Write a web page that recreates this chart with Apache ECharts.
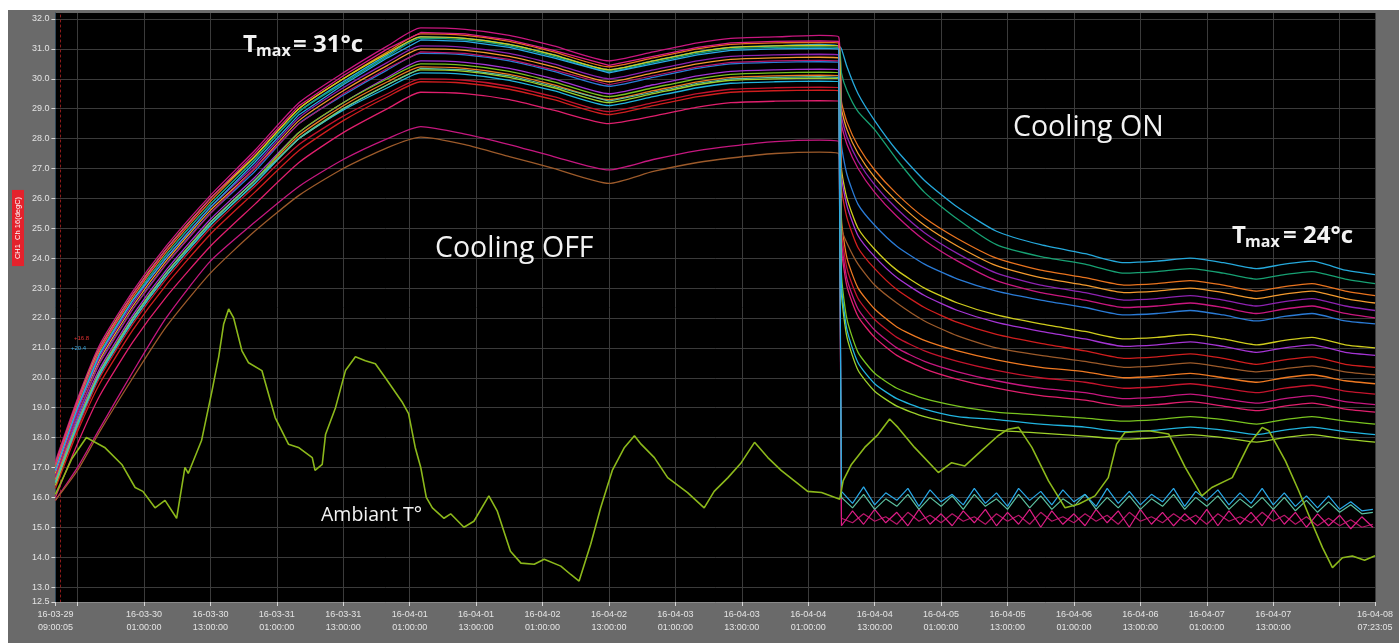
<!DOCTYPE html>
<html><head><meta charset="utf-8">
<script src="https://cdn.jsdelivr.net/npm/echarts@6/dist/echarts.min.js"></script>
<style>
html,body{margin:0;padding:0;background:#fff;width:1399px;height:643px;overflow:hidden}
#c{position:absolute;left:8px;top:10px;width:1391px;height:633px;background:#6a6a6a}
</style>
</head><body><div id="c"></div>
<script>
// ---- time axis (hours since 2016-03-29 00:00:00) ----
const START = 9 + 5/3600;              // 16-03-29 09:00:05
const END = 247 + 23/60 + 5/3600;      // 16-04-08 07:23:05
const xTickValues = [START,13,25,37,49,61,73,85,97,109,121,133,145,157,169,181,193,205,217,229,241,END];
const xLabelValues = [START,25,37,49,61,73,85,97,109,121,133,145,157,169,181,193,205,217,229,END];
const yTickValues = [12.5,13,14,15,16,17,18,19,20,21,22,23,24,25,26,27,28,29,30,31,32];

// ---- sensor series: hours relative to start of record ----
const hours = [0,4,8,14,20,28,36,44,52,60,66,74,82,90,100,108,116,122,130,138,141.5,
  142,143,145,148,152,157,163,170,178,186,193,199,205,211,217,222,227,233,238.4];

const sCyan = [17.0,19.0,20.8,22.6,24.1,25.8,27.3,28.9,29.9,30.8,31.4,31.35,31.15,30.8,30.3,30.6,30.9,31.05,31.1,31.15,31.1,
  31.0,30.4,29.5,28.6,27.6,26.6,25.7,24.9,24.45,24.15,23.85,23.9,24.0,23.85,23.65,23.8,23.9,23.6,23.45];
const sMagentaTop = [17.2,19.3,21.1,22.9,24.4,26.1,27.6,29.2,30.2,31.1,31.7,31.65,31.45,31.1,30.6,30.9,31.2,31.35,31.4,31.45,31.4,
  28.5,27.8,27.0,26.2,25.4,24.6,23.9,23.25,22.85,22.6,22.35,22.4,22.5,22.35,22.15,22.3,22.4,22.15,22.0];
const sOrange = [17.0,19.1,20.9,22.7,24.2,25.9,27.4,29.0,30.0,30.9,31.5,31.45,31.25,30.9,30.4,30.7,31.0,31.15,31.2,31.22,31.2,
  29.25,28.55,27.75,26.95,26.15,25.35,24.65,24.0,23.6,23.35,23.1,23.15,23.25,23.1,22.9,23.05,23.15,22.9,22.75];
const sTeal = [16.9,19.0,20.8,22.6,24.1,25.8,27.3,28.9,29.85,30.75,31.35,31.3,31.1,30.75,30.25,30.55,30.85,31.0,31.05,31.07,31.05,
  30.2,29.6,28.9,28.3,27.3,26.2,25.3,24.45,24.05,23.8,23.5,23.55,23.65,23.5,23.3,23.45,23.55,23.3,23.15];
const sOrange2 = [16.8,18.9,20.6,22.4,23.9,25.6,27.0,28.6,29.6,30.45,31.0,30.95,30.75,30.4,29.9,30.2,30.5,30.65,30.7,30.72,30.7,
  29.0,28.3,27.5,26.7,25.9,25.1,24.4,23.75,23.35,23.1,22.85,22.9,23.0,22.85,22.65,22.8,22.9,22.65,22.5];
const sPurple = [16.9,18.9,20.7,22.5,24.0,25.7,27.1,28.7,29.7,30.55,31.1,31.05,30.85,30.5,30.0,30.3,30.6,30.75,30.8,30.82,30.8,
  28.75,28.05,27.25,26.45,25.65,24.85,24.15,23.5,23.1,22.85,22.6,22.65,22.75,22.6,22.4,22.55,22.65,22.4,22.25];
const sBlue = [16.7,18.7,20.5,22.3,23.8,25.5,26.9,28.5,29.45,30.3,30.85,30.8,30.6,30.25,29.75,30.05,30.35,30.5,30.55,30.57,30.55,
  27.8,26.8,25.8,25.1,24.4,23.8,23.3,22.9,22.6,22.35,22.1,22.15,22.25,22.1,21.9,22.05,22.15,21.9,21.8];
const sYellow = [17.1,19.2,21.0,22.8,24.3,26.0,27.4,29.0,30.0,30.85,31.4,31.35,31.15,30.8,30.3,30.6,30.9,31.05,31.1,31.12,31.1,
  27.0,26.0,25.0,24.3,23.6,23.0,22.5,22.1,21.8,21.55,21.3,21.35,21.45,21.3,21.1,21.25,21.35,21.1,21.0];
const sPurple2 = [16.6,18.6,20.3,22.1,23.6,25.3,26.7,28.2,29.2,30.05,30.6,30.55,30.35,30.0,29.5,29.8,30.1,30.25,30.3,30.32,30.3,
  26.75,25.75,24.75,24.05,23.35,22.75,22.25,21.85,21.55,21.3,21.05,21.1,21.2,21.05,20.85,21.0,21.1,20.85,20.75];
const sRed = [16.3,18.2,19.8,21.6,23.1,24.8,26.2,27.6,28.6,29.4,29.9,29.85,29.65,29.3,28.8,29.1,29.4,29.55,29.6,29.62,29.6,
  26.35,25.35,24.35,23.65,22.95,22.35,21.85,21.45,21.15,20.9,20.65,20.7,20.8,20.65,20.45,20.6,20.7,20.45,20.35];
const sOrange3 = [16.6,18.5,20.2,22.0,23.5,25.2,26.6,28.1,29.1,29.9,30.4,30.35,30.15,29.8,29.3,29.6,29.9,30.05,30.1,30.12,30.1,
  25.3,24.0,23.0,22.3,21.7,21.25,20.9,20.6,20.35,20.2,20.0,20.05,20.15,20.0,19.85,20.0,20.1,19.9,19.8];
const sRed2 = [16.4,18.3,20.0,21.8,23.3,25.0,26.4,27.8,28.75,29.5,30.0,29.95,29.75,29.4,28.9,29.2,29.5,29.65,29.7,29.72,29.7,
  24.95,23.65,22.65,21.95,21.35,20.9,20.55,20.25,20.0,19.85,19.65,19.7,19.8,19.65,19.5,19.65,19.75,19.55,19.45];
const sMagenta2 = [16.0,17.8,19.4,21.2,22.7,24.4,25.8,27.2,28.2,29.0,29.55,29.5,29.3,28.95,28.5,28.75,29.05,29.2,29.25,29.27,29.25,
  24.35,23.05,22.05,21.35,20.75,20.3,19.95,19.65,19.4,19.25,19.05,19.1,19.2,19.05,18.9,19.05,19.15,18.95,18.85];
const sMagentaLow = [15.9,17.0,18.3,20.2,22.0,23.9,25.2,26.4,27.3,28.0,28.4,28.15,27.8,27.4,26.95,27.3,27.6,27.75,27.9,27.95,27.9,
  24.6,23.3,22.3,21.6,21.0,20.55,20.2,19.9,19.65,19.5,19.3,19.35,19.45,19.3,19.15,19.3,19.4,19.2,19.1];
const sBrown = [15.9,16.9,18.2,20.0,21.7,23.5,24.9,26.1,27.0,27.7,28.05,27.8,27.4,27.0,26.5,26.9,27.2,27.35,27.5,27.55,27.5,
  25.0,24.5,23.8,23.1,22.5,21.9,21.4,21.0,20.75,20.55,20.35,20.4,20.5,20.35,20.2,20.3,20.4,20.2,20.1];
const sGreen = [16.5,18.5,20.2,22.0,23.5,25.2,26.6,28.2,29.2,30.0,30.5,30.45,30.25,29.9,29.4,29.7,30.0,30.15,30.2,30.22,30.2,
  23.45,21.95,20.85,20.15,19.65,19.3,19.05,18.85,18.75,18.65,18.55,18.6,18.7,18.6,18.45,18.6,18.7,18.55,18.45];
const sGreen2 = [16.4,18.4,20.1,21.9,23.4,25.1,26.5,28.0,29.0,29.8,30.3,30.25,30.05,29.7,29.2,29.5,29.8,29.95,30.0,30.02,30.0,
  22.85,21.35,20.25,19.55,19.05,18.7,18.45,18.25,18.15,18.05,17.95,18.0,18.1,18.0,17.85,18.0,18.1,17.95,17.85];
const sCyan2 = [16.5,18.4,20.1,21.9,23.4,25.1,26.5,28.0,28.95,29.7,30.2,30.15,29.95,29.6,29.1,29.4,29.7,29.85,29.9,29.92,29.9,
  23.1,21.6,20.5,19.8,19.3,18.95,18.7,18.6,18.45,18.35,18.2,18.25,18.35,18.25,18.1,18.25,18.35,18.2,18.1];

// ---- inlet sensors: heating phase + noisy cooled phase ----
const heatHours = [0,4,8,14,20,28,36,44,52,60,66,74,82,90,100,108,116,122,130,138,141.5];
const nCyanHeat = [16.9,19.0,20.8,22.6,24.0,25.7,27.2,28.8,29.8,30.7,31.3,31.25,31.05,30.7,30.2,30.5,30.8,30.95,31.0,31.02,31.0];
const nGreenHeat = [16.5,18.5,20.2,22.0,23.5,25.2,26.6,28.0,29.0,29.8,30.35,30.3,30.1,29.75,29.25,29.55,29.85,30.0,30.05,30.07,30.05];
const nMagentaHeat = [17.1,19.2,21.0,22.8,24.3,26.0,27.5,29.1,30.1,31.0,31.55,31.5,31.3,30.95,30.45,30.75,31.05,31.2,31.25,31.27,31.25];
const nPinkHeat = [16.7,18.8,20.5,22.3,23.8,25.5,27.0,28.5,29.5,30.35,30.9,30.85,30.65,30.3,29.8,30.1,30.4,30.55,30.6,30.62,30.6];
const coolHours = [142,144,146,148,150,152,154,156,158,160,162,164,166,168,170,172,174,176,178,180,182,184,186,188,190,
  192,194,196,198,200,202,204,206,208,210,212,214,216,218,220,222,224,226,228,230,232,234,236,238];
const nCyanCool = [16.2,15.8,16.35,15.75,16.15,15.9,16.3,15.7,16.25,15.85,16.1,15.75,16.3,15.8,16.15,15.7,16.3,15.9,16.2,15.75,
  16.25,15.85,16.1,15.7,16.3,15.8,16.2,15.75,16.1,15.85,16.3,15.7,16.2,15.9,16.25,15.75,16.15,15.8,16.3,15.75,
  16.15,15.7,16.05,15.65,16.05,15.6,15.85,15.55,15.6];
const nGreenCool = [16.0,15.65,16.1,15.6,15.95,15.7,16.1,15.6,16.0,15.7,16.05,15.6,16.1,15.7,15.95,15.6,16.1,15.65,16.05,15.6,
  15.95,15.7,16.1,15.6,16.0,15.65,16.05,15.6,15.95,15.7,16.1,15.6,16.0,15.7,16.05,15.6,15.95,15.65,16.0,15.6,
  16.0,15.55,15.9,15.5,15.85,15.5,15.75,15.45,15.5];
const nMagentaCool = [15.05,15.55,15.1,15.6,15.15,15.5,15.05,15.6,15.1,15.45,15.05,15.55,15.15,15.6,15.05,15.5,15.1,15.6,15.0,15.55,
  15.1,15.45,15.05,15.6,15.15,15.55,15.0,15.6,15.1,15.5,15.05,15.45,15.1,15.6,15.05,15.55,15.1,15.5,15.05,15.6,
  15.1,15.5,15.0,15.45,15.05,15.4,14.95,15.35,15.0];
const nPinkCool = [15.3,15.15,15.45,15.2,15.35,15.1,15.5,15.2,15.4,15.15,15.45,15.2,15.35,15.1,15.45,15.2,15.4,15.1,15.5,15.2,
  15.35,15.15,15.45,15.2,15.4,15.1,15.5,15.2,15.35,15.15,15.45,15.2,15.4,15.1,15.45,15.2,15.35,15.15,15.5,15.2,
  15.4,15.1,15.35,15.05,15.3,15.05,15.25,15.0,15.1];

// ---- ambient temperature ----
const ambHours = [0,3,5.6,8.9,12.0,14.4,15.8,18.0,19.8,21.9,23.4,24.0,26.4,28.3,29.5,30.4,31.3,32.2,33.7,34.9,37.3,39.7,42.1,43.9,
  46.4,46.9,48.2,48.8,50.6,52.4,54.2,56.0,57.8,59.6,62.6,63.8,65.0,66.0,67.0,68.1,70.2,71.4,73.8,75.6,78.3,79.8,82.2,84.1,
  86.5,88.3,91.3,93.1,94.6,96.7,98.5,100.6,102.8,104.6,105.8,108.2,110.6,114.2,117.2,119.0,121.5,123.9,126.3,128.7,131.1,
  133.5,135.9,138.4,141.7,142.3,143.8,146.2,148.6,150.7,152.2,155.2,159.5,161.9,164.3,167.3,170.3,172.1,174.0,176.4,179.4,
  182.4,184.8,187.8,190.2,191.7,193.2,197.5,201.1,204.1,207.1,208.9,212.6,215.6,218.0,219.2,222.2,224.6,227.1,228.9,230.7,
  232.5,234.3,236.5,238.4];
const ambTemp = [16.1,17.3,18.0,17.67,17.1,16.33,16.2,15.65,15.9,15.3,17.0,16.8,17.9,19.57,20.7,21.8,22.3,22.0,20.9,20.5,20.24,18.67,17.78,17.67,
  17.33,16.9,17.1,18.1,19.0,20.24,20.7,20.57,20.47,20.0,19.2,18.8,17.67,17.0,16.0,15.65,15.3,15.45,15.0,15.2,16.05,15.55,14.2,13.8,
  13.76,13.93,13.7,13.42,13.2,14.43,15.65,16.9,17.67,18.06,17.78,17.33,16.66,16.16,15.65,16.2,16.66,17.16,17.84,17.33,16.9,
  16.55,16.2,16.16,15.94,16.55,17.1,17.67,18.1,18.62,18.34,17.67,16.83,17.16,17.05,17.56,18.06,18.28,18.34,17.67,16.55,
  15.65,15.77,16.05,16.66,17.78,18.17,18.23,18.12,17.0,16.05,16.33,16.66,17.78,18.34,18.23,17.22,16.22,15.1,14.32,13.65,
  13.98,14.04,13.9,14.05];

// ---- build ----
const pair = (hs, vs) => hs.map((h, i) => [START + h, vs[i]]);
const smooth = [
  ['CH sensor cyan', sCyan, '#25a9dc'],
  ['CH sensor magenta', sMagentaTop, '#c9177f'],
  ['CH sensor orange', sOrange, '#e8731e'],
  ['CH sensor teal', sTeal, '#17a173'],
  ['CH sensor orange 2', sOrange2, '#f29a2e'],
  ['CH sensor purple', sPurple, '#8d22b0'],
  ['CH sensor blue', sBlue, '#2a7bd6'],
  ['CH sensor yellow', sYellow, '#cfcc1d'],
  ['CH sensor purple 2', sPurple2, '#a534d4'],
  ['CH sensor red', sRed, '#d01e1e'],
  ['CH sensor orange 3', sOrange3, '#ee7922'],
  ['CH sensor red 2', sRed2, '#c3142c'],
  ['CH sensor magenta 2', sMagenta2, '#e01f6d'],
  ['CH sensor magenta low', sMagentaLow, '#c5177f'],
  ['CH sensor brown', sBrown, '#9c5a2a'],
  ['CH sensor green', sGreen, '#79c41f'],
  ['CH sensor green 2', sGreen2, '#9fd22a'],
  ['CH sensor cyan 2', sCyan2, '#21b4df']
];
const series = smooth.map(([name, vals, color]) => ({
  name, type: 'line', data: pair(hours, vals), showSymbol: false, smooth: 0.2,
  lineStyle: {width: 1.3, color}, itemStyle: {color}, z: 2
}));
const noisy = [
  ['Inlet pink', nPinkHeat, nPinkCool, '#b8176a'],
  ['Inlet magenta', nMagentaHeat, nMagentaCool, '#dd1d86'],
  ['Inlet green', nGreenHeat, nGreenCool, '#5cc0a0'],
  ['Inlet cyan', nCyanHeat, nCyanCool, '#2aa9e8']
];
noisy.forEach(([name, heat, cool, color]) => series.push({
  name, type: 'line', data: pair(heatHours, heat).concat(pair(coolHours, cool)),
  showSymbol: false, lineStyle: {width: 1.2, color}, itemStyle: {color}, z: 2
}));
series.push({
  name: 'Ambiant', type: 'line', data: pair(ambHours, ambTemp), showSymbol: false,
  lineStyle: {width: 1.6, color: '#8cb81b'}, itemStyle: {color: '#8cb81b'}, z: 3
});

function fmt(v) {
  const s = Math.round(v * 3600);
  const d = new Date(Date.UTC(2016, 2, 29) + s * 1000);
  const p = n => String(n).padStart(2, '0');
  return p(d.getUTCFullYear() % 100) + '-' + p(d.getUTCMonth() + 1) + '-' + p(d.getUTCDate()) + '\n' +
    p(d.getUTCHours()) + ':' + p(d.getUTCMinutes()) + ':' + p(d.getUTCSeconds());
}

const white = '#f2f2f2';
const bigFont = '"Open Sans", sans-serif';
const chart = echarts.init(document.getElementById('c'), null, {renderer: 'canvas'});
chart.setOption({
  animation: false,
  backgroundColor: '#6a6a6a',
  grid: {left: 47.4, right: 24, top: 3, bottom: 41, show: true, backgroundColor: '#000', borderWidth: 0},
  xAxis: {
    type: 'value', min: START, max: END,
    axisLine: {show: true, lineStyle: {color: '#8a8a8a'}},
    axisTick: {show: true, customValues: xTickValues, length: 4, lineStyle: {color: '#d8d8d8'}},
    axisLabel: {customValues: xLabelValues, formatter: fmt, color: '#e4e4e4', fontSize: 9,
      fontFamily: '"Liberation Sans", Arial, sans-serif', lineHeight: 13, margin: 6},
    splitLine: {show: true, lineStyle: {color: '#3b3b3b', width: 1}}
  },
  yAxis: [{
    type: 'value', min: 12.5, max: 32.2,
    axisLine: {show: true, lineStyle: {color: '#2f4658'}},
    axisTick: {show: true, customValues: yTickValues, length: 4, lineStyle: {color: '#d8d8d8'}},
    axisLabel: {customValues: yTickValues, formatter: v => v.toFixed(1), color: '#e4e4e4', fontSize: 9,
      fontFamily: '"Liberation Sans", Arial, sans-serif', margin: 6},
    splitLine: {show: true, lineStyle: {color: '#3b3b3b', width: 1}}
  }, {
    type: 'value', min: 12.5, max: 32.2, position: 'left', offset: -5,
    axisLine: {show: true, lineStyle: {color: '#8e1a1a', type: [2, 3], width: 1}},
    axisTick: {show: false}, axisLabel: {show: false}, splitLine: {show: false}
  }],
  series,
  graphic: [
    {type: 'text', x: 10, y: 218, rotation: Math.PI / 2, z: 10,
      style: {text: 'CH1  Ch 16(degC)', fill: '#fff', backgroundColor: '#e4222c', padding: [2, 7],
        font: '7.5px "Liberation Sans", Arial, sans-serif', align: 'center', verticalAlign: 'middle'}},
    {type: 'text', x: 66, y: 328, z: 10, style: {text: '+16.8', fill: '#e03030', font: '6px "Liberation Sans", sans-serif', align: 'left', verticalAlign: 'middle'}},
    {type: 'text', x: 63, y: 338, z: 10, style: {text: '+20.4', fill: '#38a8e0', font: '6px "Liberation Sans", sans-serif', align: 'left', verticalAlign: 'middle'}},
    // Tmax = 31
    {type: 'text', x: 235, y: 35, z: 10, style: {text: 'T', fill: white, font: 'bold 24px ' + bigFont, align: 'left', verticalAlign: 'middle'}},
    {type: 'text', x: 248, y: 41, z: 10, style: {text: 'max', fill: white, font: 'bold 16px ' + bigFont, align: 'left', verticalAlign: 'middle'}},
    {type: 'text', x: 285, y: 35, z: 10, style: {text: '= 31°c', fill: white, font: 'bold 24px ' + bigFont, align: 'left', verticalAlign: 'middle'}},
    // Tmax = 24
    {type: 'text', x: 1224, y: 226, z: 10, style: {text: 'T', fill: white, font: 'bold 24px ' + bigFont, align: 'left', verticalAlign: 'middle'}},
    {type: 'text', x: 1237, y: 232, z: 10, style: {text: 'max', fill: white, font: 'bold 16px ' + bigFont, align: 'left', verticalAlign: 'middle'}},
    {type: 'text', x: 1275, y: 226, z: 10, style: {text: '= 24°c', fill: white, font: 'bold 24px ' + bigFont, align: 'left', verticalAlign: 'middle'}},
    {type: 'text', x: 427, y: 239, z: 10, style: {text: 'Cooling OFF', fill: white, font: '28.5px ' + bigFont, align: 'left', verticalAlign: 'middle'}},
    {type: 'text', x: 1005, y: 118, z: 10, style: {text: 'Cooling ON', fill: white, font: '28.5px ' + bigFont, align: 'left', verticalAlign: 'middle'}},
    {type: 'text', x: 313, y: 505, z: 10, style: {text: 'Ambiant T°', fill: white, font: '19.5px ' + bigFont, align: 'left', verticalAlign: 'middle'}}
  ]
});
</script></body></html>
